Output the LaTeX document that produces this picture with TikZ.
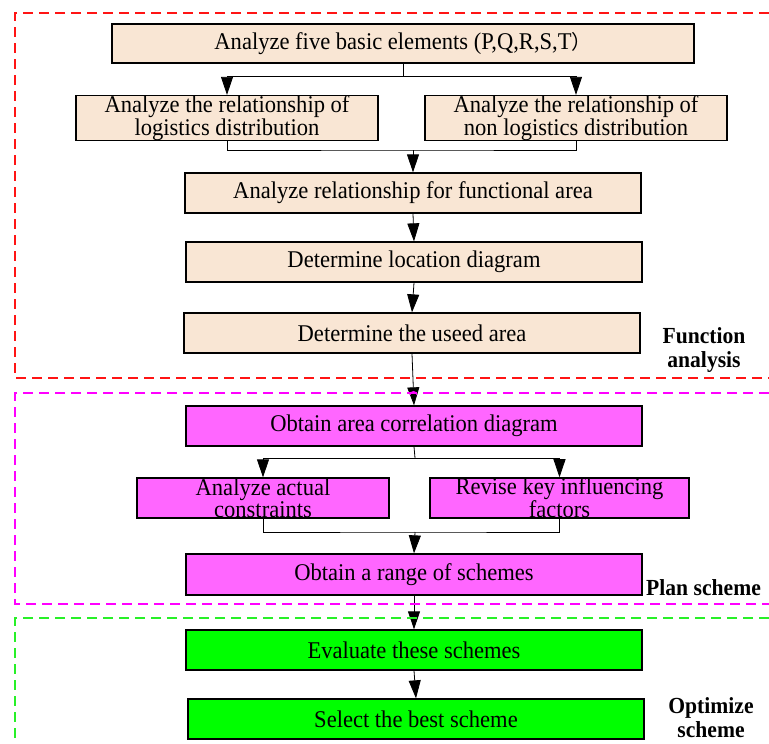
\documentclass[tikz,border=0pt]{standalone}
\usepackage{fontspec}
\setmainfont{Liberation Serif}[FakeStretch=0.94]
\newfontfamily\cjk{Noto Sans CJK SC}
\usetikzlibrary{arrows.meta}
\definecolor{beige}{RGB}{249,230,212}
\definecolor{pinkfill}{RGB}{255,102,255}
\definecolor{greenfill}{RGB}{0,255,0}
\definecolor{redline}{RGB}{255,20,20}
\definecolor{magline}{RGB}{255,0,255}
\definecolor{grnline}{RGB}{40,240,40}
\tikzset{
  box/.style={draw=black, line width=1.3pt, inner sep=0pt, align=center,
    minimum height=40pt, font=\fontsize{24}{20.5}\selectfont},
  bbox/.style={box, fill=beige},
  pbox/.style={box, fill=pinkfill},
  gbox/.style={box, fill=greenfill},
  conn/.style={draw=black, line width=0.8pt},
  arr/.style={conn, -{Triangle[length=18pt,width=12pt]}},
  frame/.style={dashed, line width=1.3pt, dash pattern=on 10pt off 6pt},
  lbl/.style={font=\bfseries\fontsize{23}{24}\selectfont, align=center, inner sep=0pt}
}
\begin{document}
\begin{tikzpicture}[x=1pt,y=-1pt]
\useasboundingbox (0,0) rectangle (769,744);
% boxes
\node[bbox, minimum width=582pt, minimum height=39pt] (b1) at (403,43.5) {Analyze five basic elements (P,Q,R,S,T{\cjk\fontsize{20}{20}\selectfont ）}};
\node[bbox, minimum width=302pt] (b2a) at (227,118) {Analyze the relationship of\\logistics distribution};
\node[bbox, minimum width=302pt] (b2b) at (576,118) {Analyze the relationship of\\non logistics distribution};
\node[bbox, minimum width=456pt] (b3) at (413,193) {Analyze relationship for functional area};
\node[bbox, minimum width=456pt] (b4) at (414,262) {Determine location diagram};
\node[bbox, minimum width=456pt] (b5) at (412,333) {Determine the useed area};
\node[pbox, minimum width=456pt] (b6) at (414,426) {Obtain area correlation diagram};
\node[pbox, minimum width=252pt] (b7a) at (263,498) {Analyze actual\\constraints};
\node[pbox, minimum width=259pt] (b7b) at (559.5,498) {Revise key influencing\\factors};
\node[pbox, minimum width=456pt, minimum height=41pt] (b8) at (414,574.5) {Obtain a range of schemes};
\node[gbox, minimum width=456pt] (b9) at (414,650) {Evaluate these schemes};
\node[gbox, minimum width=456pt] (b10) at (416,719) {Select the best scheme};
% labels
\node[lbl] (l1) at (704,350) {Function\\analysis};
\node[lbl, anchor=west] (l2) at (646,588) {Plan scheme};
\node[lbl] (l3) at (711,718) {Optimize\\scheme};
% connectors
\coordinate (j1) at (403,76);
\coordinate (j2) at (413,150);
\coordinate (j3) at (415,458);
\coordinate (j4) at (415,532);
\draw[conn] (b1.south) -- (j1);
\draw[arr] (j1) -| (b2a.north);
\draw[arr] (j1) -| (b2b.north);
\draw[conn] (b2a.south) |- (j2) -| (b2b.south);
\draw[arr] (j2) -- (b3.north);
\draw[arr] (b3.south) -- (b4.north);
\draw[arr] (b4.south) -- (b5.north);
\draw[arr] (b5.south) -- (b6.north);
\draw[conn] (b6.south) -- (j3);
\draw[arr] (j3) -| (b7a.north);
\draw[arr] (j3) -| (b7b.north);
\draw[conn] (b7a.south) |- (j4) -| (b7b.south);
\draw[arr] (j4) -- (b8.north);
\draw[arr] (b8.south) -- (b9.north);
\draw[arr] (b9.south) -- (b10.north);
% dashed frames
\draw[frame, redline] (769,13) -- (15,13) -- (15,378) -- (769,378);
\draw[frame, magline] (769,393) -- (15,393) -- (15,604) -- (769,604);
\draw[frame, grnline] (769,618) -- (15,618) -- (15,744);
\draw[magline, line width=1pt] (410,395) arc (180:360:3.5);
\end{tikzpicture}
\end{document}
